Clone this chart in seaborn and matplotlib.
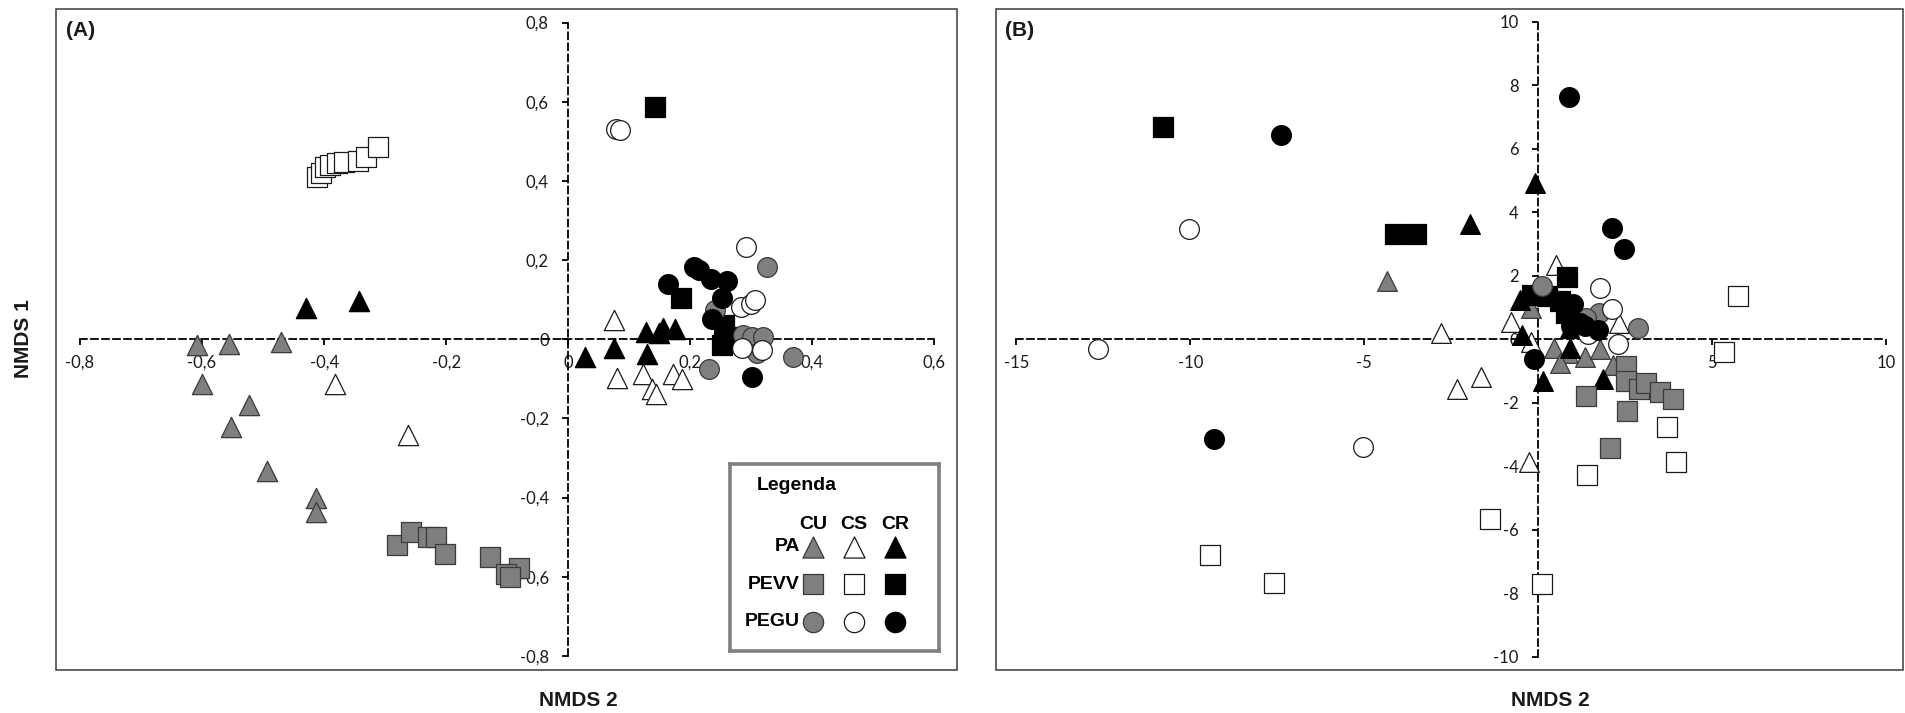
import matplotlib
matplotlib.use("Agg")
import matplotlib.pyplot as plt
import seaborn as sns
import pandas as pd
from matplotlib.patches import Rectangle
from matplotlib.ticker import FuncFormatter

# ---------------- data ----------------
SITES = ["PA", "PEVV", "PEGU"]
TREATMENTS = ["CU", "CS", "CR"]

A_TICKS_X = [-0.8, -0.6, -0.4, -0.2, 0.0, 0.2, 0.4, 0.6]
A_TICKS_Y = [-0.8, -0.6, -0.4, -0.2, 0.0, 0.2, 0.4, 0.6, 0.8]
B_TICKS_X = [-15, -10, -5, 0, 5, 10]
B_TICKS_Y = [-10, -8, -6, -4, -2, 0, 2, 4, 6, 8, 10]

# Panel A  (x = NMDS 2, y = NMDS 1)
A_PA_CU = [(-0.609, -0.015), (-0.555, -0.013), (-0.471, -0.008), (-0.600, -0.112),
           (-0.523, -0.165), (-0.553, -0.222), (-0.493, -0.333), (-0.413, -0.400),
           (-0.413, -0.437)]
A_PA_CS = [(-0.382, -0.114), (-0.262, -0.242), (0.075, 0.048), (0.080, -0.098),
           (0.123, -0.087), (0.137, -0.126), (0.144, -0.139), (0.172, -0.088),
           (0.187, -0.101)]
A_PA_CR = [(-0.429, 0.080), (-0.343, 0.097), (0.027, -0.044), (0.075, -0.021),
           (0.127, 0.019), (0.149, 0.017), (0.156, 0.029), (0.175, 0.027),
           (0.130, -0.038)]
A_PEVV_CU = [(-0.281, -0.520), (-0.257, -0.486), (-0.230, -0.500), (-0.216, -0.500),
             (-0.202, -0.543), (-0.128, -0.549), (-0.080, -0.577), (-0.102, -0.594),
             (-0.095, -0.600)]
A_PEVV_CS = [(-0.412, 0.409), (-0.405, 0.420), (-0.398, 0.436), (-0.390, 0.440),
             (-0.378, 0.444), (-0.368, 0.448), (-0.345, 0.451), (-0.332, 0.460),
             (-0.312, 0.486)]
A_PEVV_CR = [(0.143, 0.586), (0.185, 0.105), (0.255, 0.035), (0.252, -0.015),
             (0.262, 0.005)]
A_PEGU_CU = [(0.326, 0.183), (0.240, 0.075), (0.287, 0.011), (0.302, 0.006),
             (0.319, 0.006), (0.310, -0.036), (0.368, -0.044), (0.230, -0.076)]
A_PEGU_CS = [(0.079, 0.531), (0.085, 0.529), (0.291, 0.234), (0.283, 0.082),
             (0.299, 0.088), (0.306, 0.098), (0.285, -0.021), (0.318, -0.028)]
A_PEGU_CR = [(0.163, 0.140), (0.207, 0.183), (0.214, 0.174), (0.234, 0.151),
             (0.260, 0.147), (0.252, 0.103), (0.235, 0.052), (0.301, -0.095)]

# Panel B
B_PA_CU = [(-4.34, 1.83), (-0.22, 0.99), (0.45, -0.26), (0.85, -0.42), (0.62, -0.73),
           (1.33, -0.57), (1.76, -0.31), (2.15, -0.81)]
B_PA_CS = [(-2.80, 0.21), (-2.34, -1.57), (-1.64, -1.19), (-0.27, -3.86), (0.50, 2.35),
           (-0.79, 0.55), (-0.20, -0.07), (2.31, 0.52)]
B_PA_CR = [(-0.10, 4.93), (-1.97, 3.64), (-0.52, 1.25), (-0.47, 0.14), (0.90, 0.37),
           (0.90, -0.26), (1.87, -1.25), (0.14, -1.31)]
B_PEVV_CU = [(2.07, -3.43), (1.36, -1.78), (2.51, -0.84), (2.51, -1.31), (2.89, -1.57),
             (3.10, -1.36), (3.51, -1.67), (3.87, -1.88), (2.56, -2.25)]
B_PEVV_CS = [(-9.45, -6.79), (-7.61, -7.67), (-1.40, -5.67), (0.10, -7.69), (1.39, -4.26),
             (3.71, -2.76), (3.97, -3.86), (5.73, 1.36), (5.34, -0.39)]
B_PEVV_CR = [(-10.78, 6.67), (-4.12, 3.33), (-3.52, 3.33), (0.83, 1.95), (-0.19, 1.41),
             (0.24, 1.36), (0.62, 1.20), (0.81, 0.84)]
B_PEGU_CU = [(0.11, 1.67), (1.74, 0.84), (2.87, 0.37), (1.38, 0.66)]
B_PEGU_CS = [(-10.05, 3.46), (-12.67, -0.29), (-5.03, -3.39), (1.77, 1.62), (2.12, 0.97),
             (2.29, -0.16), (1.42, 0.16)]
B_PEGU_CR = [(-7.41, 6.43), (0.87, 7.64), (2.12, 3.50), (2.45, 2.83), (-9.33, -3.14),
             (1.00, 1.10), (1.19, 0.52), (1.33, 0.42), (1.71, 0.29), (0.95, 0.42),
             (-0.12, -0.63)]

# ---------------- styles ----------------
MARKERS = {"PA": "^", "PEVV": "s", "PEGU": "o"}
FILL = {"CU": "#7f7f7f", "CS": "white", "CR": "black"}
EDGE = {"CU": "#3a3a3a", "CS": "#1a1a1a", "CR": "black"}

sns.set_theme(style="white")
plt.rcParams["font.family"] = ["Lato", "DejaVu Sans"]
BOLD_FONT = ["Liberation Sans", "DejaVu Sans"]
LEG_FONT = ["Liberation Sans", "DejaVu Sans"]

W, H, DPI = 1906, 713, 100
fig = plt.figure(figsize=(W / DPI, H / DPI), dpi=DPI)
fig.patch.set_facecolor("white")


def add_ax_px(left, top, right, bottom):
    return fig.add_axes([left / W, 1 - bottom / H, (right - left) / W, (bottom - top) / H])


def make_df(groups):
    rows = []
    for (site, treat), pts in groups.items():
        for x, y in pts:
            rows.append({"site": site, "treat": treat, "x": x, "y": y})
    return pd.DataFrame(rows)


def comma_fmt(v, pos):
    if abs(v) < 1e-9:
        return "0"
    if float(v).is_integer():
        return f"{int(v)}"
    return f"{v:.1f}".replace(".", ",")


def setup(ax, xlim, ylim, xt, yt):
    ax.set_facecolor("white")
    ax.set_xlim(xlim)
    ax.set_ylim(ylim)
    ax.spines["top"].set_visible(False)
    ax.spines["right"].set_visible(False)
    for s in ["left", "bottom"]:
        sp = ax.spines[s]
        sp.set_visible(True)
        sp.set_position(("data", 0))
        sp.set_color("black")
        sp.set_linewidth(1.3)
        sp.set_linestyle((0, (3.8, 2.3)))
    ax.spines["bottom"].set_bounds(xt[0], xt[-1])
    ax.spines["left"].set_bounds(yt[0], yt[-1])
    ax.set_xticks(xt)
    ax.set_yticks(yt)
    ax.xaxis.set_major_formatter(FuncFormatter(comma_fmt))
    ax.yaxis.set_major_formatter(FuncFormatter(comma_fmt))
    ax.tick_params(axis="x", bottom=True, direction="out", length=4, width=1.3,
                   color="black", labelsize=12, pad=7, labelcolor="#1a1a1a")
    ax.tick_params(axis="y", left=True, direction="out", length=4, width=1.3,
                   color="black", labelsize=12, pad=10, labelcolor="#1a1a1a")
    ax.grid(False)
    ax.set_xlabel("")
    ax.set_ylabel("")
    ax.add_patch(Rectangle((0, 0), 1, 1, transform=ax.transAxes, fill=False,
                           ec="#3a3a3a", lw=1.1, clip_on=False, zorder=6))


def draw(ax, df, sizes):
    for site in SITES:
        for treat in TREATMENTS:
            sub = df[(df["site"] == site) & (df["treat"] == treat)]
            sns.scatterplot(data=sub, x="x", y="y", marker=MARKERS[site],
                            color=FILL[treat], edgecolor=EDGE[treat], linewidth=0.9,
                            s=sizes[site], ax=ax, legend=False, zorder=3, clip_on=False)


# ---------------- panel A ----------------
dfA = make_df({("PA", "CU"): A_PA_CU, ("PA", "CS"): A_PA_CS, ("PA", "CR"): A_PA_CR,
               ("PEVV", "CU"): A_PEVV_CU, ("PEVV", "CS"): A_PEVV_CS, ("PEVV", "CR"): A_PEVV_CR,
               ("PEGU", "CU"): A_PEGU_CU, ("PEGU", "CS"): A_PEGU_CS, ("PEGU", "CR"): A_PEGU_CR})
axA = add_ax_px(55.7, 9, 957.3, 670)
draw(axA, dfA, {"PA": 14.6 ** 2, "PEVV": 14.6 ** 2, "PEGU": 14.2 ** 2})
setup(axA, (-0.8398, 0.6377), (-0.8356, 0.8343), A_TICKS_X, A_TICKS_Y)
axA.text(0.0114, 0.967, "(A)", transform=axA.transAxes, ha="left", va="center",
         fontsize=15, fontweight="bold", family=BOLD_FONT, color="#1a1a1a")

# ---------------- panel B ----------------
dfB = make_df({("PA", "CU"): B_PA_CU, ("PA", "CS"): B_PA_CS, ("PA", "CR"): B_PA_CR,
               ("PEVV", "CU"): B_PEVV_CU, ("PEVV", "CS"): B_PEVV_CS, ("PEVV", "CR"): B_PEVV_CR,
               ("PEGU", "CU"): B_PEGU_CU, ("PEGU", "CS"): B_PEGU_CS, ("PEGU", "CR"): B_PEGU_CR})
axB = add_ax_px(996, 9, 1903, 670)
draw(axB, dfB, {"PA": 14.2 ** 2, "PEVV": 14.2 ** 2, "PEGU": 14.2 ** 2})
setup(axB, (-15.588, 10.483), (-10.41, 10.40), B_TICKS_X, B_TICKS_Y)
axB.text(0.0095, 0.967, "(B)", transform=axB.transAxes, ha="left", va="center",
         fontsize=15, fontweight="bold", family=BOLD_FONT, color="#1a1a1a")

# ---------------- axis titles ----------------
fig.text(24 / W, 1 - 339 / H, "NMDS 1", rotation=90, ha="center", va="center",
         fontsize=15, fontweight="bold", family=BOLD_FONT, color="#1a1a1a")
fig.text(578 / W, 1 - 701 / H, "NMDS 2", ha="center", va="center",
         fontsize=15, fontweight="bold", family=BOLD_FONT, color="#1a1a1a")
fig.text(1550 / W, 1 - 701 / H, "NMDS 2", ha="center", va="center",
         fontsize=15, fontweight="bold", family=BOLD_FONT, color="#1a1a1a")

# ---------------- legend (inset with categorical grid) ----------------
leg_rows = []
for ri, site in enumerate(SITES):
    for ci, treat in enumerate(TREATMENTS):
        leg_rows.append({"site": site, "treat": treat, "col": ci, "row": ri})
dfL = pd.DataFrame(leg_rows)

axL = add_ax_px(729.6, 464.4, 939.0, 651.3)
axL.set_facecolor("white")
LEG_SIZES = {"PA": 15.2 ** 2, "PEVV": 14.2 ** 2, "PEGU": 14.6 ** 2}
for site in SITES:
    for treat in TREATMENTS:
        sub = dfL[(dfL["site"] == site) & (dfL["treat"] == treat)]
        sns.scatterplot(data=sub, x="col", y="row", marker=MARKERS[site],
                        color=FILL[treat], edgecolor=EDGE[treat], linewidth=0.9,
                        s=LEG_SIZES[site], ax=axL, legend=False, zorder=3)
axL.set_xlim(-2.049, 3.077)
axL.set_ylim(2.789, -2.195)
axL.set_xticks([])
axL.set_yticks([])
axL.set_xlabel("")
axL.set_ylabel("")
for sp in axL.spines.values():
    sp.set_visible(True)
    sp.set_color("#808080")
    sp.set_linewidth(2.6)
axL.text(-0.406, -1.645, "Legenda", ha="center", va="center", fontsize=14,
         fontweight="bold", family=LEG_FONT, color="black")
for ci, treat in enumerate(TREATMENTS):
    axL.text(ci, -0.60, treat, ha="center", va="center", fontsize=14,
             fontweight="bold", family=LEG_FONT, color="black")
for ri, site in enumerate(SITES):
    axL.text(-0.33, ri, site, ha="right", va="center", fontsize=14,
             fontweight="bold", family=LEG_FONT, color="black")

fig.savefig("out.png", dpi=DPI, facecolor="white")
